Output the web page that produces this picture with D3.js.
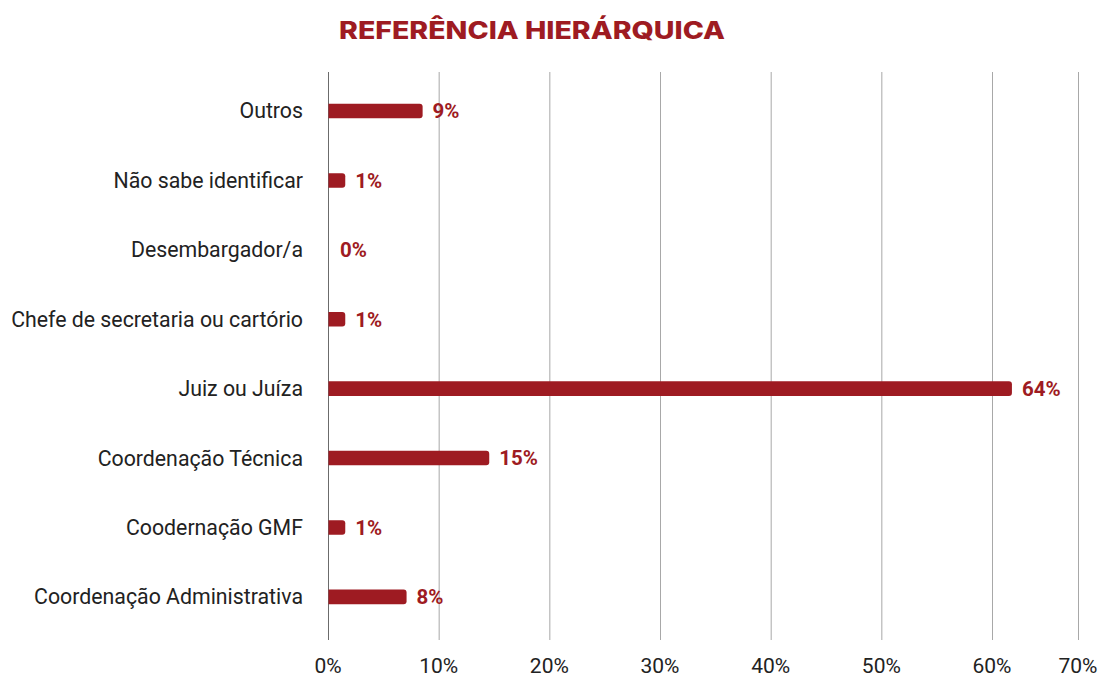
<!DOCTYPE html>
<html><head><meta charset="utf-8">
<script src="https://cdn.jsdelivr.net/npm/d3@7"></script>
<style>
html,body{margin:0;padding:0;background:#fff;}
svg{display:block;}
</style></head>
<body>
<svg id="chart" width="1101" height="676"></svg>
<script>
const title = "REFERÊNCIA HIERÁRQUICA";
const categories = ["Outros","Não sabe identificar","Desembargador/a","Chefe de secretaria ou cartório","Juiz ou Juíza","Coordenação Técnica","Coodernação GMF","Coordenação Administrativa"];
const barValues = [8.55, 1.56, 0, 1.56, 61.8, 14.57, 1.56, 7.1];
const valueLabels = ["9%","1%","0%","1%","64%","15%","1%","8%"];
const tickValues = [0,10,20,30,40,50,60,67.77];
const tickLabels = ["0%","10%","20%","30%","40%","50%","60%","70%"];

const red = "#9e1b22";
const svg = d3.select("#chart");
const m = {left:328, right:1078, top:72, bottom:640};

const x = d3.scaleLinear().domain([0, tickValues[tickValues.length-1]]).range([m.left, m.right]);
const y = d3.scaleBand().domain(categories).range([76.3, 631.6]).paddingInner(0.79).paddingOuter(0.395);

svg.append("text")
  .attr("x", 532).attr("y", 38.5)
  .attr("text-anchor","middle")
  .attr("font-family","Inter, 'Open Sans', sans-serif")
  .attr("font-weight",800)
  .attr("font-size",24)
  .attr("fill",red)
  .attr("textLength",386).attr("lengthAdjust","spacingAndGlyphs")
  .text(title);

// gridlines
svg.append("g").selectAll("line").data(tickValues).join("line")
  .attr("x1", d=>x(d)+0.5).attr("x2", d=>x(d)+0.5)
  .attr("y1", m.top).attr("y2", m.bottom)
  .attr("stroke", (d,i)=> i===0 ? "#6b6b6b" : "#a8a8a8")
  .attr("stroke-width",1);

// x tick labels
svg.append("g").selectAll("text").data(tickValues).join("text")
  .attr("x", d=>x(d)).attr("y", 673)
  .attr("text-anchor","middle")
  .attr("font-family","Roboto, sans-serif")
  .attr("font-size",21)
  .attr("fill","#222")
  .text((d,i)=>tickLabels[i]);

// category labels
svg.append("g").selectAll("text").data(categories).join("text")
  .attr("x", 303).attr("y", d=>y(d)+y.bandwidth()/2)
  .attr("dy","0.35em")
  .attr("text-anchor","end")
  .attr("font-family","Roboto, sans-serif")
  .attr("font-size",21.3)
  .attr("fill","#222")
  .text(d=>d);

// bars
svg.append("g").selectAll("path").data(categories).join("path")
  .attr("fill", red)
  .attr("d", (d,i)=>{
    const x0 = x(0)+0.5, x1 = x(barValues[i]);
    const y0 = y(d), h = y.bandwidth();
    if (x1 - x0 <= 0) return "";
    const r = Math.min(3, (x1-x0)/2);
    return `M${x0},${y0}H${x1-r}Q${x1},${y0} ${x1},${y0+r}V${y0+h-r}Q${x1},${y0+h} ${x1-r},${y0+h}H${x0}Z`;
  });

// value labels
svg.append("g").selectAll("text").data(categories).join("text")
  .attr("x", (d,i)=> barValues[i] > 0 ? x(barValues[i]) + 10 : x(0) + 12)
  .attr("y", d=>y(d)+y.bandwidth()/2)
  .attr("dy","0.36em")
  .attr("font-family","Roboto, sans-serif")
  .attr("font-weight",700)
  .attr("font-size",20.5)
  .attr("fill",red)
  .text((d,i)=>valueLabels[i]);
</script>
</body></html>
